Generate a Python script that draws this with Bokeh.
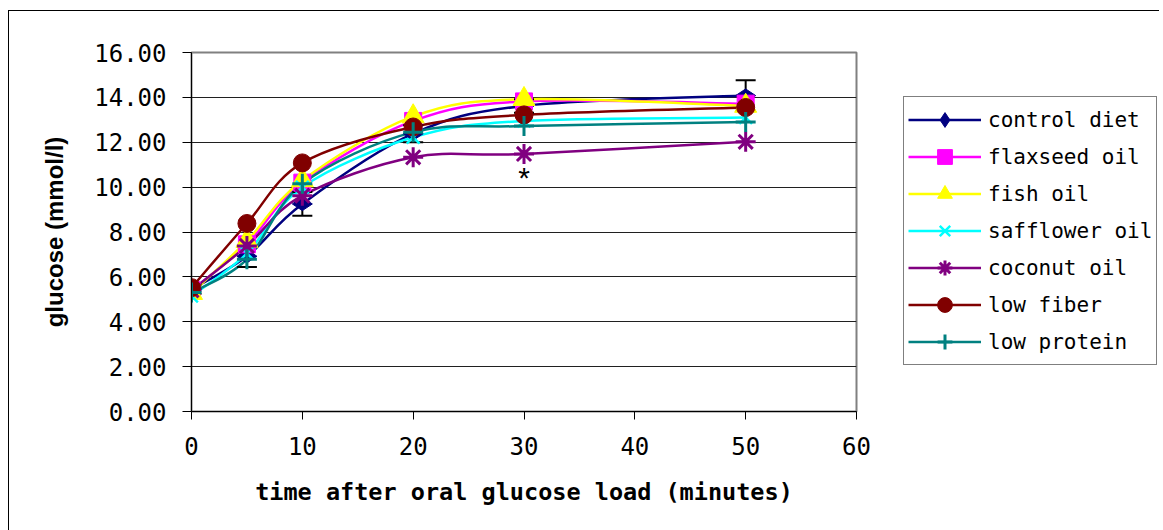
import math

import numpy as np
from bokeh.embed import file_html
from bokeh.layouts import row
from bokeh.models import (ColumnDataSource, FixedTicker, Label, Legend,
                          LegendItem, PrintfTickFormatter)
from bokeh.plotting import figure
from bokeh.resources import INLINE

# --- data: blood glucose (mmol/l) after an oral glucose load ---------------
time_min = [0, 5, 10, 20, 30, 50]

control_diet = [5.45, 6.92, 9.25, 12.38, 13.62, 14.08]
control_err = [0.20, 0.48, 0.53, 0.38, 0.30, 0.68]
flaxseed_oil = [5.40, 7.45, 10.20, 12.95, 13.82, 13.72]
fish_oil = [5.28, 7.60, 10.30, 13.15, 13.92, 13.62]
safflower_oil = [5.15, 7.05, 10.00, 12.22, 12.95, 13.10]
coconut_oil = [5.40, 7.38, 9.62, 11.33, 11.48, 12.02]
low_fiber = [5.52, 8.38, 11.08, 12.68, 13.22, 13.55]
low_protein = [5.30, 6.78, 10.15, 12.45, 12.72, 12.90]

series_labels = ["control diet", "flaxseed oil", "fish oil", "safflower oil",
                 "coconut oil", "low fiber", "low protein"]
series_values = [control_diet, flaxseed_oil, fish_oil, safflower_oil,
                 coconut_oil, low_fiber, low_protein]

y_ticks = [0, 2, 4, 6, 8, 10, 12, 14, 16]
x_ticks = [0, 10, 20, 30, 40, 50, 60]

# --- styling ----------------------------------------------------------------
styles = [
    dict(color="#000080", marker="diamond", size=20, angle=math.pi / 2, lw=1),
    dict(color="#FF00FF", marker="square", size=17, angle=0, lw=1),
    dict(color="#FFFF00", marker="triangle", size=22, angle=0, lw=1),
    dict(color="#00FFFF", marker="x", size=18, angle=0, lw=2.5),
    dict(color="#800080", marker="asterisk", size=20, angle=0, lw=3),
    dict(color="#800000", marker="circle", size=18, angle=0, lw=1),
    dict(color="#008080", marker="cross", size=20, angle=0, lw=3),
]

MONO = "DejaVu Sans Mono"
SANS = "Liberation Sans"
CURVE_WIDTH = 2.5

BORDER_TOP, BORDER_BOTTOM = 41, 119   # shared by both panels so frames line up


def smooth_segments(xs, ys, k=1.0 / 6.0):
    """Cubic Bezier pieces (Catmull-Rom style) through the points."""
    n = len(xs)
    cols = {key: [] for key in ("x0", "y0", "x1", "y1", "cx0", "cy0", "cx1", "cy1")}
    for i in range(n - 1):
        xp, yp = (xs[i - 1], ys[i - 1]) if i > 0 else (xs[i], ys[i])
        xn, yn = (xs[i + 2], ys[i + 2]) if i + 2 < n else (xs[i + 1], ys[i + 1])
        cols["x0"].append(xs[i])
        cols["y0"].append(ys[i])
        cols["x1"].append(xs[i + 1])
        cols["y1"].append(ys[i + 1])
        cols["cx0"].append(xs[i] + (xs[i + 1] - xp) * k)
        cols["cy0"].append(ys[i] + (ys[i + 1] - yp) * k)
        cols["cx1"].append(xs[i + 1] - (xn - xs[i]) * k)
        cols["cy1"].append(ys[i + 1] - (yn - ys[i]) * k)
    return ColumnDataSource(cols)


# --- main chart -------------------------------------------------------------
p = figure(
    width=894, height=519,
    x_range=(0, 60), y_range=(0, 16),
    output_backend="svg", toolbar_location=None,
    min_border_left=182, min_border_right=47,
    min_border_top=BORDER_TOP, min_border_bottom=BORDER_BOTTOM,
    background_fill_color="white", border_fill_color="white",
)

p.outline_line_color = "#808080"
p.outline_line_width = 2

p.xaxis.ticker = FixedTicker(ticks=x_ticks)
p.yaxis.ticker = FixedTicker(ticks=y_ticks)
p.yaxis.formatter = PrintfTickFormatter(format="%.2f")
for ax in (p.xaxis[0], p.yaxis[0]):
    ax.axis_line_color = "black"
    ax.axis_line_width = 1
    ax.major_tick_line_color = "black"
    ax.major_tick_in = 0
    ax.minor_tick_line_color = None
    ax.major_label_text_font = MONO
    ax.major_label_text_font_size = "24px"
    ax.major_label_text_color = "black"
    ax.axis_label_text_color = "black"
    ax.axis_label_text_font_style = "bold"

p.xaxis.major_tick_out = 8
p.xaxis.major_label_standoff = 17
p.xaxis.axis_label = "time after oral glucose load (minutes)"
p.xaxis.axis_label_text_font = MONO
p.xaxis.axis_label_text_font_size = "23.5px"
p.xaxis.axis_label_standoff = 20

p.yaxis.major_tick_out = 9
p.yaxis.major_label_standoff = 16
p.yaxis.axis_label = "glucose (mmol/l)"
p.yaxis.axis_label_text_font = SANS
p.yaxis.axis_label_text_font_size = "24px"
p.yaxis.axis_label_standoff = 23

p.xgrid.visible = False
p.ygrid.grid_line_color = "#202020"
p.ygrid.grid_line_width = 1

# smoothed curves first
for vals, st in zip(series_values, styles):
    src = smooth_segments(time_min, vals)
    p.bezier(x0="x0", y0="y0", x1="x1", y1="y1",
             cx0="cx0", cy0="cy0", cx1="cx1", cy1="cy1",
             source=src, line_color=st["color"], line_width=CURVE_WIDTH)

# error bars of the control diet
err_src = ColumnDataSource(dict(
    t=time_min,
    lo=[m - e for m, e in zip(control_diet, control_err)],
    hi=[m + e for m, e in zip(control_diet, control_err)],
))
p.segment(x0="t", y0="lo", x1="t", y1="hi", source=err_src,
          line_color="black", line_width=2)
p.scatter(x="t", y="lo", source=err_src, marker="dash", size=20,
          line_color="black", line_width=2)
p.scatter(x="t", y="hi", source=err_src, marker="dash", size=20,
          line_color="black", line_width=2)

# markers on top
for vals, st in zip(series_values, styles):
    src = ColumnDataSource(dict(t=time_min, v=vals))
    p.scatter(x="t", y="v", source=src, marker=st["marker"], size=st["size"],
              angle=st["angle"], fill_color=st["color"],
              line_color=st["color"], line_width=st["lw"])

# significance mark under coconut oil at 30 min
p.add_layout(Label(x=30, y=10.42, text="*", text_align="center",
                   text_baseline="middle", text_font=SANS,
                   text_font_size="30px", text_color="black"))

# --- legend panel -----------------------------------------------------------
leg = figure(
    width=256, height=519,
    x_range=(0, 1), y_range=(0, 1),
    output_backend="svg", toolbar_location=None,
    x_axis_location=None, y_axis_location=None,
    min_border_left=0, min_border_right=0,
    min_border_top=BORDER_TOP, min_border_bottom=BORDER_BOTTOM,
    background_fill_color="white", border_fill_color="white",
    outline_line_color=None,
)
leg.grid.visible = False

# key glyphs only: one undefined point each, so nothing is plotted
key_src = ColumnDataSource(dict(x=np.array([np.nan]), y=np.array([np.nan])))
items = []
for lab, st in zip(series_labels, styles):
    key_line = leg.line(x="x", y="y", source=key_src,
                        line_color=st["color"], line_width=CURVE_WIDTH)
    key_mark = leg.scatter(x="x", y="y", source=key_src, marker=st["marker"],
                           size=st["size"], angle=st["angle"],
                           fill_color=st["color"], line_color=st["color"],
                           line_width=st["lw"])
    items.append(LegendItem(label=lab, renderers=[key_line, key_mark]))

legend = Legend(
    items=items,
    location=(0, 46),
    margin=0, padding=4, spacing=0,
    glyph_width=73, glyph_height=37, label_height=37,
    label_standoff=7,
    label_text_font=MONO, label_text_font_size="21px", label_text_color="black",
    border_line_color="black", border_line_width=1,
    background_fill_color="white", background_fill_alpha=1,
)
leg.add_layout(legend)

# the chart area is framed by a thin black line on its top and left edges
layout = row(
    p, leg, spacing=0,
    margin=(10, 0, 0, 8),
    styles={"border-left": "1px solid #000000", "border-top": "1px solid #000000"},
)

open("out.html", "w").write(file_html(layout, INLINE))
